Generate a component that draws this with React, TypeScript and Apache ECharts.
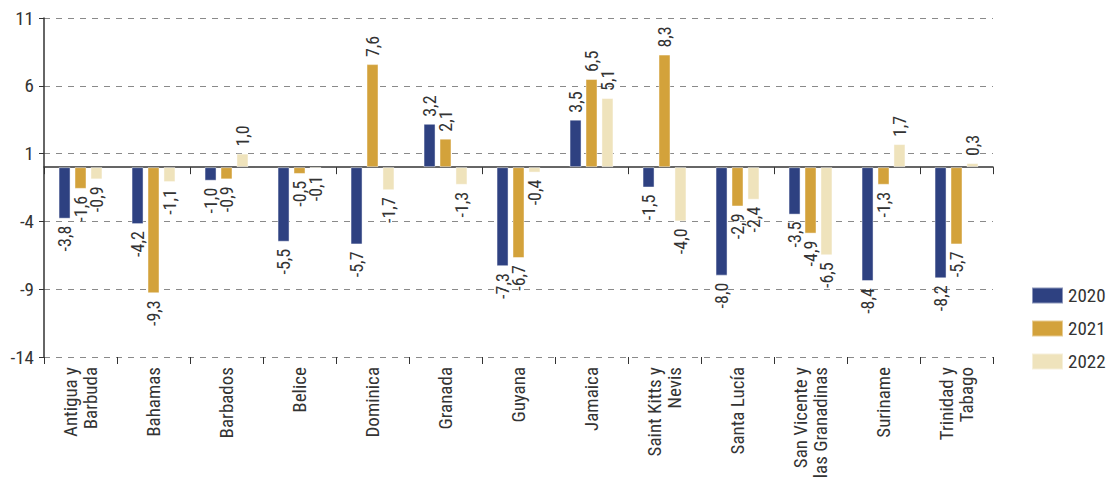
import React, { useEffect, useRef } from "react";
import * as echarts from "echarts";

// Countries on the category axis
const categories: string[] = [
  "Antigua y\nBarbuda",
  "Bahamas",
  "Barbados",
  "Belice",
  "Dominica",
  "Granada",
  "Guyana",
  "Jamaica",
  "Saint Kitts y\nNevis",
  "Santa Lucía",
  "San Vicente y\nlas Granadinas",
  "Suriname",
  "Trinidad y\nTabago",
];

const values2020: number[] = [-3.8, -4.2, -1.0, -5.5, -5.7, 3.2, -7.3, 3.5, -1.5, -8.0, -3.5, -8.4, -8.2];
const values2021: number[] = [-1.6, -9.3, -0.9, -0.5, 7.6, 2.1, -6.7, 6.5, 8.3, -2.9, -4.9, -1.3, -5.7];
const values2022: number[] = [-0.9, -1.1, 1.0, -0.1, -1.7, -1.3, -0.4, 5.1, -4.0, -2.4, -6.5, 1.7, 0.3];

const seriesNames: string[] = ["2020", "2021", "2022"];

// Value range and the labels of the ticks, bottom to top
const yMin = -14;
const yMax = 11;
const yStep = 5;
const tickLabels: string[] = ["-14", "-9", "-4", "1", "6", "11"];

const COLORS = ["#2e4181", "#d3a23b", "#efe3bc"];
const NARROW = "'Roboto Condensed', 'Liberation Sans Narrow', 'DejaVu Sans Condensed', 'Arial Narrow', sans-serif";
const TEXT = "#333333";

const fmt = (v: number) => v.toFixed(1).replace(".", ",");

function barData(values: number[]) {
  return values.map((v) => ({
    value: v,
    label: {
      position: v >= 0 ? "top" : "bottom",
      align: v >= 0 ? "left" : "right",
    },
  }));
}

export default function App() {
  const ref = useRef<HTMLDivElement>(null);

  useEffect(() => {
    document.body.style.margin = "0";
    if (!ref.current) return;
    const chart = echarts.init(ref.current, undefined, { renderer: "svg" });

    const series = [values2020, values2021, values2022].map((vals, i) => ({
      name: seriesNames[i],
      type: "bar",
      xAxisIndex: 0,
      yAxisIndex: 0,
      barWidth: 12,
      barGap: "33%",
      itemStyle: { color: COLORS[i], borderColor: "rgba(255,255,255,0.45)", borderWidth: 1 },
      label: {
        show: true,
        rotate: 90,
        verticalAlign: "middle",
        distance: 7,
        fontFamily: NARROW,
        fontSize: 18,
        color: TEXT,
        formatter: (p: any) => fmt(p.value),
      },
      data: barData(vals),
    }));

    chart.setOption({
      animation: false,
      backgroundColor: "#ffffff",
      grid: { left: 44, right: 115, top: 18, bottom: 127, containLabel: false },
      legend: {
        orient: "vertical",
        left: 1026,
        top: 281,
        itemWidth: 31,
        itemHeight: 16,
        itemGap: 14,
        icon: "rect",
        data: seriesNames,
        textStyle: { fontFamily: NARROW, fontSize: 19, color: TEXT },
      },
      xAxis: [
        {
          type: "category",
          data: categories,
          position: "bottom",
          axisLine: { show: true, onZero: true, onZeroAxisIndex: 0, lineStyle: { color: "#333", width: 1.5 } },
          axisTick: { show: true, alignWithLabel: false, length: 7, lineStyle: { color: "#333" } },
          axisLabel: { show: false },
          splitLine: { show: false },
        },
        {
          type: "category",
          data: categories,
          position: "bottom",
          axisLine: { show: false, onZero: false },
          axisTick: { show: true, alignWithLabel: false, length: 7, lineStyle: { color: "#333" } },
          axisLabel: {
            show: true,
            rotate: 90,
            interval: 0,
            margin: 10,
            fontFamily: NARROW,
            fontSize: 19,
            lineHeight: 20,
            color: TEXT,
          },
          splitLine: { show: false },
        },
      ],
      yAxis: [
        {
          type: "value",
          min: yMin,
          max: yMax,
          position: "right",
          show: false,
          splitLine: { show: false },
        },
        {
          type: "value",
          min: 0,
          max: yMax - yMin,
          interval: yStep,
          position: "left",
          axisLine: { show: true, lineStyle: { color: "#333", width: 1.5 } },
          axisTick: { show: true, length: 5, lineStyle: { color: "#333" } },
          axisLabel: {
            fontFamily: NARROW,
            fontSize: 19,
            color: TEXT,
            margin: 10,
            formatter: (_v: number, idx: number) => tickLabels[idx],
          },
          splitLine: { show: true, lineStyle: { color: "#8a8a8a", type: [6, 6], width: 1 } },
        },
      ],
      series,
    });

    return () => chart.dispose();
  }, []);

  return <div ref={ref} style={{ width: 1108, height: 484 }} />;
}
